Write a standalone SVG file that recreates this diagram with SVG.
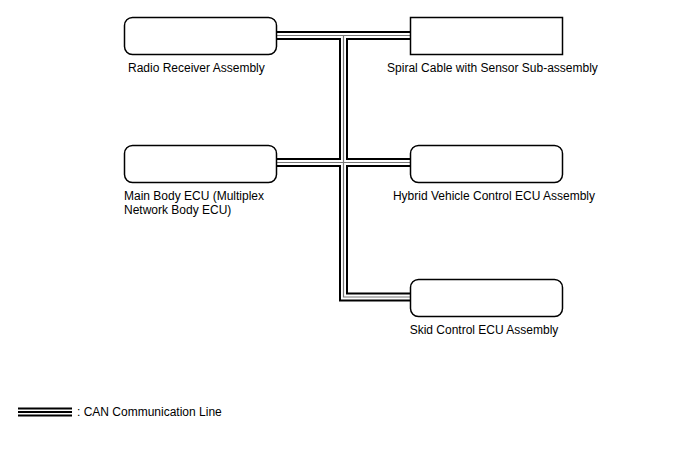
<svg xmlns="http://www.w3.org/2000/svg" width="688" height="463" viewBox="0 0 688 463">
<style>
.box{fill:#fff;stroke:#000;stroke-width:1.5}
.t{font-family:"Liberation Sans",Arial,sans-serif;font-size:12px;fill:#000}
.c1{fill:none;stroke:#000;stroke-width:9}
.c2{fill:none;stroke:#fff;stroke-width:5}
.c3{fill:none;stroke:#777;stroke-width:1.2}
</style>
<rect width="688" height="463" fill="#fff"/>
<g id="connectors">
<path class="c1" d="M277,35.5H410M343.5,35.5V297H410M277,162.5H410"/>
<path class="c2" d="M277,35.5H410M343.5,35.5V297H410M277,162.5H410"/>
<path class="c3" d="M277,35.5H410M343.5,35.5V297H410M277,162.5H410"/>
</g>
<g id="radio">
<rect class="box" x="124.5" y="17.5" width="152" height="37" rx="8"/>
<text class="t" x="128" y="72">Radio Receiver Assembly</text>
</g>
<g id="spiral">
<rect class="box" x="410.5" y="17.5" width="152" height="37"/>
<text class="t" x="492.5" y="72" text-anchor="middle">Spiral Cable with Sensor Sub-assembly</text>
</g>
<g id="mainbody">
<rect class="box" x="124.5" y="145.5" width="152" height="37" rx="8"/>
<text class="t" x="124" y="200">Main Body ECU (Multiplex</text>
<text class="t" x="124" y="214">Network Body ECU)</text>
</g>
<g id="hybrid">
<rect class="box" x="410.5" y="145.5" width="152" height="37" rx="8"/>
<text class="t" x="494" y="200" text-anchor="middle">Hybrid Vehicle Control ECU Assembly</text>
</g>
<g id="skid">
<rect class="box" x="410.5" y="279.5" width="152" height="37" rx="8"/>
<text class="t" x="484" y="334" text-anchor="middle">Skid Control ECU Assembly</text>
</g>
<g id="legend">
<path class="c1" d="M18,412H72"/>
<path class="c2" d="M18,412H72"/>
<path d="M18,412H72" stroke="#000" stroke-width="2"/>
<text class="t" x="77" y="416">: CAN Communication Line</text>
</g>
</svg>
